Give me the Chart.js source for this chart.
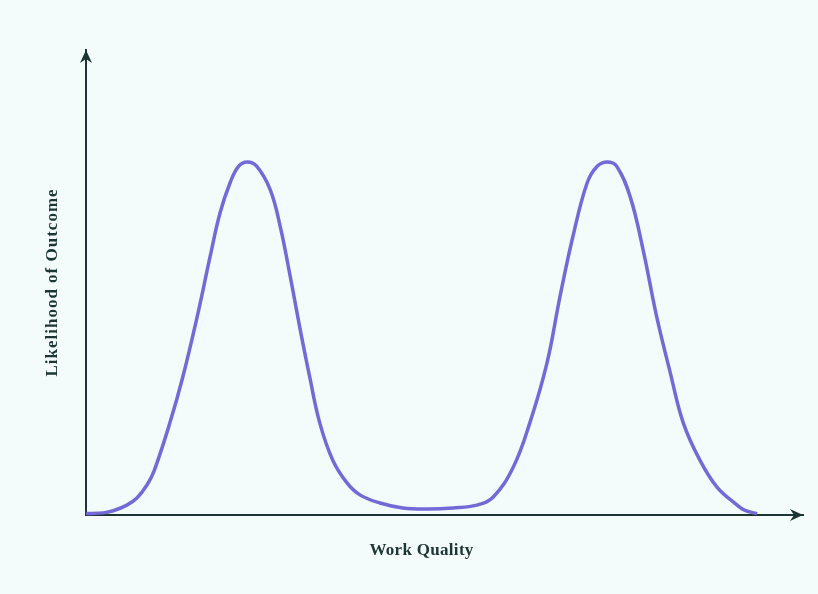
<!DOCTYPE html>
<html>
<head>
<meta charset="utf-8">
<script src="https://cdn.jsdelivr.net/npm/chart.js@4.4.1/dist/chart.umd.min.js"></script>
<style>
  html, body { margin: 0; padding: 0; background: #f3fcfa; }
  #wrap { width: 818px; height: 594px; }
</style>
</head>
<body>
<div id="wrap"><canvas id="chart" width="818" height="594"></canvas></div>
<script>
// work quality (0..10) vs likelihood relative to peak
const quality = [0, 0.24, 0.38, 0.57, 0.71, 0.85, 0.95, 1.17, 1.35, 1.55, 1.73, 1.87, 2.01, 2.13, 2.25,
  2.38, 2.57, 2.71, 2.85, 2.98, 3.12, 3.26, 3.44, 3.64, 3.82, 4.10, 4.42, 4.76, 5.12, 5.45, 5.68,
  5.96, 6.19, 6.43, 6.61, 6.79, 6.99, 7.13, 7.27, 7.40, 7.59, 7.77, 7.96, 8.15, 8.33, 8.56, 8.80,
  9.07, 9.19, 9.36];
const likelihood = [0.004, 0.006, 0.012, 0.028, 0.048, 0.085, 0.125, 0.261, 0.391, 0.561, 0.731, 0.856, 0.941, 0.988, 1.0,
  0.988, 0.921, 0.816, 0.674, 0.533, 0.391, 0.261, 0.156, 0.091, 0.057, 0.034, 0.020, 0.017, 0.020, 0.028, 0.051,
  0.136, 0.261, 0.431, 0.618, 0.788, 0.941, 0.988, 1.0, 0.988, 0.901, 0.751, 0.561, 0.402, 0.261, 0.156, 0.079,
  0.030, 0.013, 0.004];

const xLabel = "Work Quality";
const yLabel = "Likelihood of Outcome";
const axisColor = "#1c3535";

function arrowHead(ctx, x, y, angle) {
  ctx.save();
  ctx.translate(x, y);
  ctx.rotate(angle);
  ctx.beginPath();
  ctx.moveTo(0, 0);
  ctx.lineTo(-13, -6);
  ctx.lineTo(-9, 0);
  ctx.lineTo(-13, 6);
  ctx.closePath();
  ctx.fillStyle = axisColor;
  ctx.fill();
  ctx.restore();
}

const axesPlugin = {
  id: "axesArrows",
  afterDraw(chart) {
    const ctx = chart.ctx;
    const area = chart.chartArea;
    const xs = chart.scales.x;
    arrowHead(ctx, area.right, area.bottom, 0);
    arrowHead(ctx, area.left, area.top, -Math.PI / 2);

    ctx.save();
    ctx.fillStyle = axisColor;
    ctx.font = "bold 17px 'Liberation Serif', 'DejaVu Serif', serif";
    ctx.textAlign = "center";
    ctx.textBaseline = "middle";
    ctx.letterSpacing = "0.3px";
    const mid = xs.getPixelForValue((quality[0] + quality[quality.length - 1]) / 2);
    ctx.fillText(xLabel, mid, area.bottom + 36);
    ctx.letterSpacing = "1px";
    ctx.translate(area.left - 33, (area.top + area.bottom) / 2);
    ctx.rotate(-Math.PI / 2);
    ctx.fillText(yLabel, 0, 0);
    ctx.restore();
  }
};

new Chart(document.getElementById("chart").getContext("2d"), {
  type: "line",
  data: {
    datasets: [{
      data: quality.map((q, i) => ({ x: q, y: likelihood[i] })),
      borderColor: "#7569d8",
      borderWidth: 3.5,
      pointRadius: 0,
      tension: 0.4,
      fill: false
    }]
  },
  options: {
    responsive: false,
    animation: false,
    clip: false,
    layout: { padding: { left: 0, top: 50, right: 15, bottom: 0 } },
    plugins: { legend: { display: false }, tooltip: { enabled: false } },
    scales: {
      x: {
        type: "linear",
        min: 0,
        max: 10,
        grid: { display: false },
        ticks: { display: false },
        border: { color: axisColor, width: 2 },
        afterFit(s) { s.height = 79; }
      },
      y: {
        min: 0,
        max: 1.317,
        grid: { display: false },
        ticks: { display: false },
        border: { color: axisColor, width: 2 },
        afterFit(s) { s.width = 86; }
      }
    }
  },
  plugins: [axesPlugin]
});
</script>
</body>
</html>
